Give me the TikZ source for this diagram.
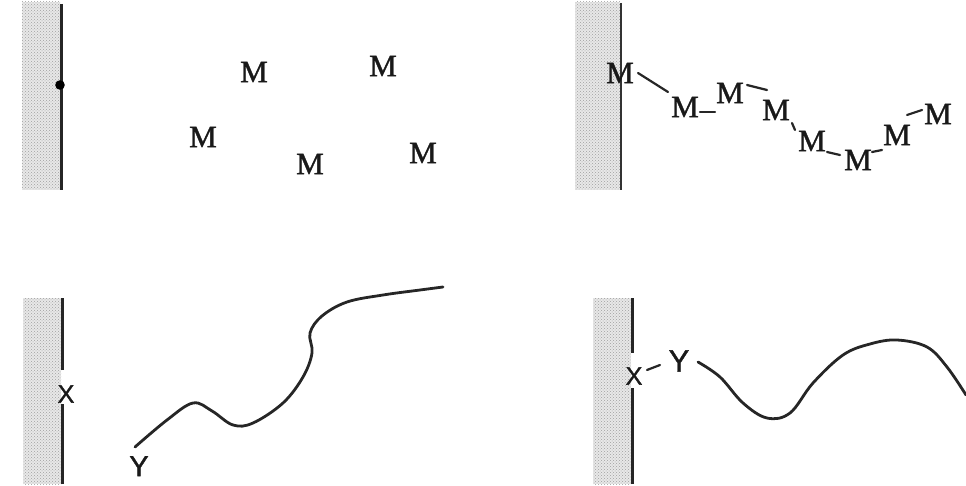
\documentclass[tikz,border=0pt]{standalone}
\usepackage{fontspec}
\setmainfont{Liberation Serif}
\newfontfamily\serifb[FakeBold=1.2]{Liberation Serif}
\newfontfamily\sansf[FakeBold=1.2]{Liberation Sans}
\usetikzlibrary{calc,patterns}
\begin{document}
\begin{tikzpicture}[x=1pt,y=-1pt,
  wallfill/.style={fill=gray!18, draw=none},
  walldots/.style={pattern=crosshatch dots, pattern color=gray!75, draw=none},
  wallline/.style={line width=3pt, draw=black!85},
  mon/.style={font=\serifb\fontsize{31}{31}\selectfont, inner sep=0pt, text=black!90},
  lab/.style={font=\sansf\fontsize{25}{25}\selectfont, inner sep=0pt, text=black!90},
  labY/.style={font=\sansf\fontsize{31}{31}\selectfont, inner sep=0pt, text=black!90},
  bond/.style={line width=2.2pt, draw=black!85, line cap=round},
  chain/.style={line width=2.8pt, draw=black!85, line cap=round, line join=round}]
\useasboundingbox (0,0) rectangle (966,486);
% ---------- panel 1 ----------
\fill[wallfill] (22,2) rectangle (60,190);
\fill[walldots] (22,2) rectangle (60,190);
\draw[wallline] (61,4) -- (61,190);
\fill[black] (60,85) circle (4.8);
\node[mon] (a1) at (254,72) {M};
\node[mon] (a2) at (383,66) {M};
\node[mon] (a3) at (203,137) {M};
\node[mon] (a4) at (310,164) {M};
\node[mon] (a5) at (423,153) {M};
% ---------- panel 2 ----------
\fill[wallfill] (575,2) rectangle (620,190);
\fill[walldots] (575,2) rectangle (620,190);
\draw[line width=1.8pt, draw=black!80] (621,3) -- (621,190);
\node[mon] (m1) at (620,73) {M};
\node[mon] (m2) at (685,107) {M};
\node[mon] (m3) at (730,93) {M};
\node[mon] (m4) at (776,110) {M};
\node[mon] (m5) at (812,141) {M};
\node[mon] (m6) at (858,160) {M};
\node[mon] (m7) at (897,135) {M};
\node[mon] (m8) at (938,114) {M};
\draw[bond] ($(m1.center)+(18,0)$) -- ($(m2.center)+(-17,-15)$);
\draw[bond] ($(m2.center)+(15,5)$) -- ($(m3.center)+(-15,19)$);
\draw[bond] ($(m3.center)+(17,-8)$) -- ($(m4.center)+(-9,-20)$);
\draw[bond] ($(m4.center)+(16,13)$) -- ($(m5.center)+(-17,-11)$);
\draw[bond] ($(m5.center)+(15,11)$) -- ($(m6.center)+(-18,-5)$);
\draw[bond] ($(m6.center)+(14,-8)$) -- ($(m7.center)+(-15,15)$);
\draw[bond] ($(m7.center)+(10,-20)$) -- ($(m8.center)+(-16,-4)$);
% ---------- panel 3 ----------
\fill[wallfill] (23,298) rectangle (61,484);
\fill[walldots] (23,298) rectangle (61,484);
\draw[wallline] (62,298) -- (62,370);
\draw[wallline] (62,404) -- (62,484);
\node[lab] (x1) at (66,394) {X};
\node[labY, anchor=north, font=\sansf\fontsize{29}{29}\selectfont] (y1) at (139,456) {Y};
\coordinate (s1) at (135,447);
\draw[chain] plot[smooth, tension=0.6] coordinates {(s1) (167,420) (193,403) (212,411) (233,425) (253,423) (283,403) (303,377) (312,353) (310,333) (322,316) (347,302) (383,295) (420,290) (443,287)};
% ---------- panel 4 ----------
\fill[wallfill] (593,298) rectangle (631,484);
\fill[walldots] (593,298) rectangle (631,484);
\draw[wallline] (632,298) -- (632,353);
\draw[wallline] (632,388) -- (632,484);
\node[lab] (x2) at (634,376) {X};
\node[labY] (y2) at (679,361) {Y};
\draw[bond] ($(x2.center)+(13,-6)$) -- ($(y2.center)+(-19,4)$);
\coordinate (s2) at (698,362);
\draw[chain] plot[smooth, tension=0.6] coordinates {(s2) (720,377) (743,403) (767,418) (790,413) (813,383) (843,355) (870,344) (897,340) (927,347) (947,367) (966,395)};
\end{tikzpicture}
\end{document}
